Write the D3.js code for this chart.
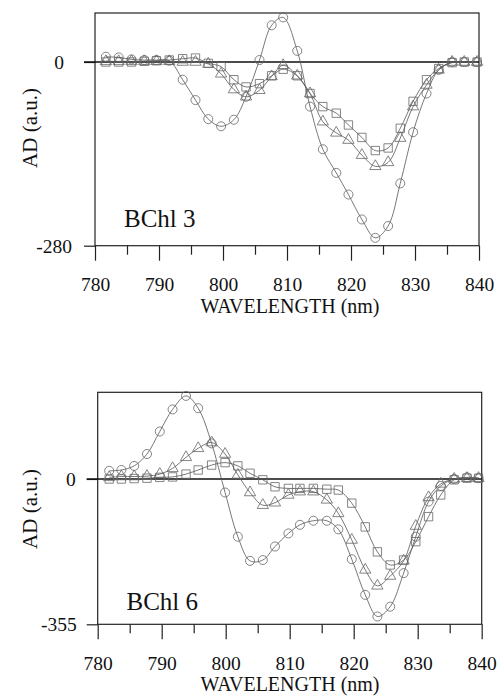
<!DOCTYPE html>
<html>
<head>
<meta charset="utf-8">
<script src="https://cdn.jsdelivr.net/npm/d3@7"></script>
<style>
  body { margin: 0; background: #fff; }
  svg { display: block; }
  text { font-family: "Liberation Serif", "Times New Roman", serif; fill: #111; }
</style>
</head>
<body>
<div class="chart"></div>
<script>
// values
const wavelengths3 = [781.7, 783.7, 785.7, 787.7, 789.6, 791.6, 793.7, 795.7, 797.7, 799.7,
	801.7, 803.6, 805.7, 807.6, 809.4, 811.6, 813.6, 815.6, 817.7, 819.6,
	821.7, 823.8, 825.8, 827.7, 829.7, 831.8, 833.7, 835.8, 837.7, 839.7];
const bchl3Circles = [8, 7, 4, 3, 3, 2, -27, -58, -87, -98, -88, -53, 3, 56, 68, 17, -68, -133,
	-169, -202, -240, -268, -250, -185, -107, -48, -12, 0, 0, 0];
const bchl3Triangles = [1, 1, 1, 1, 1, 1, 0, 0, -3, -18, -42, -53, -43, -22, -5, -21, -48, -91,
	-108, -119, -142, -159, -153, -116, -68, -35, -12, 0, 0, 0];
const bchl3Squares = [0, 0, 0, 1, 2, 3, 5, 6, -2, -7, -27, -38, -33, -21, -11, -21, -48, -68,
	-78, -96, -115, -135, -131, -101, -60, -27, -10, -1, 0, 0];

const wavelengths6 = [781.8, 783.7, 785.7, 787.7, 789.7, 791.7, 793.8, 795.7, 797.8, 799.9,
	801.9, 803.8, 805.8, 807.7, 809.8, 811.6, 813.7, 815.8, 817.6, 819.7,
	821.8, 823.7, 825.7, 827.8, 829.7, 831.7, 833.6, 835.7, 837.7, 839.5];
const bchl6Circles = [20, 22, 32, 61, 116, 170, 203, 173, 87, -33, -141, -200, -198, -165, -133,
	-112, -102, -102, -123, -196, -283, -336, -312, -230, -141, -55, -17, 0, 4, 2];
const bchl6Triangles = [4, 6, 6, 7, 12, 26, 53, 75, 89, 61, 10, -33, -64, -58, -39, -31, -31,
	-51, -84, -149, -222, -261, -237, -200, -115, -45, -12, 0, 2, 2];
const bchl6Squares = [0, 0, 1, 2, 4, 5, 12, 22, 34, 40, 32, 14, -2, -19, -23, -23, -23, -25,
	-27, -59, -117, -178, -210, -198, -153, -92, -39, -2, 2, 2];

const xTicks = [780, 785, 790, 795, 800, 805, 810, 815, 820, 825, 830, 835, 840];
const xTickLabels = ['780', '', '790', '', '800', '', '810', '', '820', '', '830', '', '840'];
const yTicks3 = [0, -280];
const yTicks6 = [0, -355];

const width = 498, height = 696;

const svg = d3.select('.chart').append('svg')
	.attr('width', width)
	.attr('height', height);

function drawPanel(p) {
	const x = d3.scaleLinear().domain([780, 840]).range([p.left, p.right]);
	const y = d3.scaleLinear().domain([p.yMin, p.yMax]).range([p.bottom, p.top]);
	const g = svg.append('g');

	// x axis with long ticks at 10 nm, short at 5
	const xAxis = d3.axisBottom(x)
		.tickValues(xTicks)
		.tickSize(15)
		.tickFormat((d, i) => xTickLabels[i]);
	const gx = g.append('g')
		.attr('transform', 'translate(0,' + p.bottom + ')')
		.call(xAxis);
	gx.select('.domain').remove();
	gx.selectAll('.tick line')
		.attr('stroke', '#222')
		.attr('stroke-width', 1.2)
		.attr('y2', (d, i) => xTickLabels[i] ? 15 : 9);
	gx.selectAll('.tick text')
		.attr('y', 45.5).attr('dy', 0)
		.style('font-size', '19.5px')
		.style('font-family', '"Liberation Serif", serif')
		.attr('fill', '#111');

	// y axis, only the two labelled ticks
	const yAxis = d3.axisLeft(y).tickValues(p.yTicks).tickSize(11).tickFormat(d => String(d));
	const gy = g.append('g')
		.attr('transform', 'translate(' + p.left + ',0)')
		.call(yAxis);
	gy.select('.domain').remove();
	gy.selectAll('.tick line').attr('stroke', '#222').attr('stroke-width', 1.2);
	gy.selectAll('.tick text')
		.attr('x', (d, i) => -p.yLabelGap[i])
		.attr('dy', '0.33em')
		.style('font-size', '19.5px')
		.style('font-family', '"Liberation Serif", serif')
		.attr('fill', '#111');

	// frame
	g.append('rect')
		.attr('x', p.left).attr('y', p.top)
		.attr('width', p.right - p.left).attr('height', p.bottom - p.top)
		.attr('fill', 'none').attr('stroke', '#222').attr('stroke-width', 1.2);

	// zero line
	g.append('line')
		.attr('x1', p.left - 11).attr('x2', p.right)
		.attr('y1', y(0)).attr('y2', y(0))
		.attr('stroke', '#111').attr('stroke-width', 1.5);

	const line = d3.line()
		.x(d => x(d[0]))
		.y(d => y(d[1]))
		.curve(d3.curveCatmullRom.alpha(0.5));

	p.series.forEach(s => {
		const pts = p.wl.map((w, i) => [w, s.values[i]]);
		g.append('path')
			.datum(pts)
			.attr('d', line)
			.attr('fill', 'none')
			.attr('stroke', '#555')
			.attr('stroke-width', 0.8);
		g.selectAll(null)
			.data(pts)
			.enter().append('path')
			.attr('transform', d => 'translate(' + x(d[0]) + ',' + y(d[1]) + ')')
			.attr('d', d3.symbol().type(s.symbol).size(s.size))
			.attr('fill', 'none')
			.attr('stroke', '#666')
			.attr('stroke-width', 0.8);
	});

	g.append('text')
		.attr('x', p.nameX).attr('y', p.nameY)
		.style('font-size', '25px')
		.text(p.name);

	g.append('text')
		.attr('x', 290).attr('y', p.titleY)
		.attr('text-anchor', 'middle')
		.style('font-size', '20px')
		.text('WAVELENGTH (nm)');

	g.append('text')
		.attr('transform', 'translate(37,' + p.yTitleCenter + ') rotate(-90)')
		.attr('text-anchor', 'middle')
		.style('font-size', '21px')
		.text('AD (a.u.)');
}

drawPanel({
	left: 95, right: 479, top: 13, bottom: 245.7,
	yMin: -280, yMax: 74.7, yTicks: yTicks3, yLabelGap: [31, 23],
	wl: wavelengths3,
	series: [
		{ values: bchl3Squares, symbol: d3.symbolSquare, size: 70 },
		{ values: bchl3Triangles, symbol: d3.symbolTriangle, size: 55 },
		{ values: bchl3Circles, symbol: d3.symbolCircle, size: 64 }
	],
	name: 'BChl 3', nameX: 124, nameY: 227,
	titleY: 313, yTitleCenter: 128
});

drawPanel({
	left: 97.7, right: 481.7, top: 392.3, bottom: 624.3,
	yMin: -355, yMax: 211.8, yTicks: yTicks6, yLabelGap: [22, 21],
	wl: wavelengths6,
	series: [
		{ values: bchl6Squares, symbol: d3.symbolSquare, size: 70 },
		{ values: bchl6Triangles, symbol: d3.symbolTriangle, size: 55 },
		{ values: bchl6Circles, symbol: d3.symbolCircle, size: 64 }
	],
	name: 'BChl 6', nameX: 126.5, nameY: 610,
	titleY: 691, yTitleCenter: 509
});
</script>
</body>
</html>
